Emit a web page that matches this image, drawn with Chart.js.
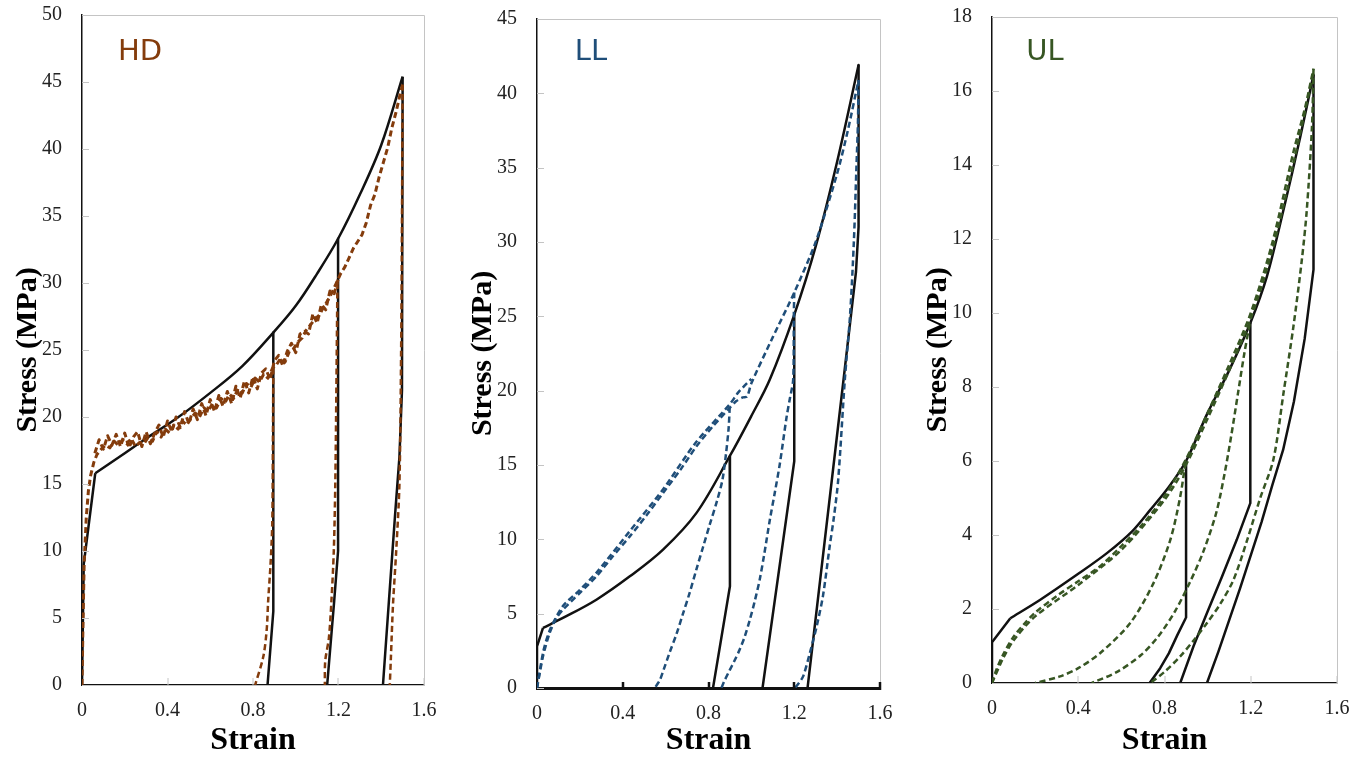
<!DOCTYPE html>
<html>
<head>
<meta charset="utf-8">
<script src="https://cdn.jsdelivr.net/npm/chart.js@4.4.1/dist/chart.umd.min.js"></script>
<style>
body{margin:0;background:#fff;}
.panel{position:absolute;top:0;height:760px;}
</style>
</head>
<body>
<div class="panel" style="left:0;width:455px"><canvas id="hd" width="455" height="760"></canvas></div>
<div class="panel" style="left:455px;width:455px"><canvas id="ll" width="455" height="760"></canvas></div>
<div class="panel" style="left:910px;width:457px"><canvas id="ul" width="457" height="760"></canvas></div>
<script>
// strain / stress pairs
var xTicks=[0,0.4,0.8,1.2,1.6];

// HD panel
var hdModelKnee=[[0,0],[0.008,9],[0.062,15.8]];
var hdModelLoad=[[0.062,15.8],[0.2,17.3],[0.3,18.4],[0.443,19.9],[0.6,21.8],[0.75,23.8],[0.895,26.3],[1.0,28.3],[1.1,30.7],[1.198,33.3],[1.3,36.6],[1.4,40.3],[1.5,45.4]];
var hdModelUnload1=[[0.895,26.3],[0.895,5.5],[0.868,0]];
var hdModelUnload2=[[1.198,33.3],[1.198,10.0],[1.18,6.3],[1.147,0]];
var hdModelUnload3=[[1.5,45.4],[1.497,22],[1.485,17],[1.466,13],[1.436,6.3],[1.408,0]];
var hdExpLoad=[[0,0],[0.004,4],[0.01,9],[0.02,12.5],[0.03,14.5],[0.04,15.6],[0.055,16.6],[0.07,17.2],[0.09,17.6],[0.11,17.9],[0.13,17.7],[0.15,18.2],[0.17,17.9],[0.19,18.3],[0.21,18.0],[0.23,18.4],[0.25,17.8],[0.27,18.1],[0.29,18.0],[0.31,18.5],[0.33,18.2],[0.35,18.9],[0.37,18.5],[0.39,19.1],[0.41,18.8],[0.43,19.4],[0.45,19.1],[0.47,19.7],[0.49,19.4],[0.51,19.9],[0.53,20.3],[0.55,20.0],[0.57,20.7],[0.59,20.4],[0.61,21.0],[0.63,20.7],[0.65,21.4],[0.67,21.1],[0.69,21.7],[0.71,21.4],[0.73,22.1],[0.75,21.8],[0.77,22.5],[0.79,22.2],[0.81,22.9],[0.83,22.6],[0.85,23.2],[0.87,22.9],[0.89,23.6],[0.91,23.9],[0.93,24.4],[0.95,24.1],[0.97,24.9],[0.99,25.1],[1.01,25.6],[1.03,25.9],[1.05,26.5],[1.07,26.9],[1.09,27.3],[1.11,27.6],[1.13,28.2],[1.15,28.7],[1.17,29.3],[1.19,30.0],[1.21,30.7],[1.23,31.2],[1.25,31.9],[1.27,32.6],[1.29,33.1],[1.31,33.6],[1.33,34.5],[1.35,35.8],[1.37,36.6],[1.39,37.9],[1.41,39.0],[1.43,40.1],[1.45,41.6],[1.47,42.8],[1.49,44.2],[1.5,44.8]];
var hdExpReload=[[0.06,17.3],[0.08,18.3],[0.1,17.6],[0.12,18.6],[0.14,17.9],[0.16,18.7],[0.18,17.8],[0.2,18.8],[0.22,17.7],[0.24,18.5],[0.26,18.9],[0.28,17.8],[0.3,18.9],[0.32,18.0],[0.34,18.8],[0.36,19.4],[0.38,18.5],[0.4,19.7],[0.42,18.9],[0.44,20.0],[0.46,19.2],[0.48,20.4],[0.5,19.5],[0.52,20.6],[0.54,19.8],[0.56,21.0],[0.58,20.1],[0.6,21.3],[0.62,20.4],[0.64,21.6],[0.66,20.8],[0.68,21.9],[0.7,21.0],[0.72,22.3],[0.74,21.4],[0.76,22.7],[0.78,21.8],[0.8,23.0],[0.82,22.1],[0.84,23.3],[0.86,23.6],[0.88,22.8],[0.9,24.2],[0.92,24.6],[0.94,23.8],[0.96,24.9],[0.98,25.5],[1.0,24.8],[1.02,26.2],[1.04,26.4],[1.06,26.2],[1.08,27.7],[1.1,27.0],[1.12,28.4],[1.14,28.0],[1.16,29.4],[1.18,29.2],[1.2,30.4]];
var hdExpUnload1=[[0.895,23.6],[0.893,18],[0.89,12],[0.882,9],[0.871,6.3],[0.864,4.1],[0.848,2.1],[0.81,0]];
var hdExpUnload2=[[1.195,30.0],[1.19,22],[1.185,15],[1.178,10],[1.167,6.3],[1.155,3.5],[1.138,1.8],[1.136,0]];
var hdExpUnload3=[[1.5,44.8],[1.497,35],[1.493,25],[1.485,15],[1.47,10],[1.455,6],[1.445,2],[1.44,0]];

// LL panel
var llModelKnee=[[0,0],[0,2.8],[0.028,4.04]];
var llModelLoad=[[0.028,4.04],[0.121,4.71],[0.277,5.94],[0.433,7.51],[0.588,9.31],[0.744,11.78],[0.899,15.59],[1.0,18.3],[1.086,20.75],[1.2,25.1],[1.3,29.7],[1.4,35.4],[1.5,41.9]];
var llModelUnload1=[[0.899,15.59],[0.9,6.84],[0.821,0]];
var llModelUnload2=[[1.2,25.1],[1.2,15.25],[1.052,0]];
var llModelUnload3=[[1.5,41.9],[1.5,31],[1.488,28],[1.43,20.75],[1.262,0]];
var llExpLoad=[[0,0],[0.028,2.13],[0.059,3.7],[0.09,4.7],[0.121,5.27],[0.199,6.39],[0.277,7.51],[0.35,8.8],[0.433,10.2],[0.51,11.6],[0.588,13.12],[0.67,14.7],[0.744,16.26],[0.82,17.6],[0.899,18.84],[0.93,19.3],[0.96,19.55],[0.98,19.6],[1.0,20.5],[1.1,23.6],[1.2,26.6],[1.3,30.0],[1.4,34.6],[1.45,37.5],[1.5,40.9]];
var llExpReload=[[0,0],[0.03,2.5],[0.06,3.9],[0.12,5.5],[0.2,6.6],[0.28,7.8],[0.43,10.5],[0.59,13.4],[0.74,16.5],[0.9,19.1],[0.94,19.9],[1.0,20.8]];
var llExpUnload1=[[0.899,18.9],[0.894,17.5],[0.882,15.8],[0.865,14.0],[0.84,12.6],[0.806,11.0],[0.775,9.5],[0.744,8.0],[0.712,6.4],[0.681,5.0],[0.65,3.6],[0.619,2.4],[0.59,1.2],[0.572,0.5],[0.549,0]];
var llExpUnload2=[[1.2,26.6],[1.198,25.0],[1.195,20.75],[1.18,19.5],[1.164,18.2],[1.133,15.1],[1.11,13.2],[1.086,11.3],[1.06,9.0],[1.039,7.3],[1.015,5.8],[0.993,4.6],[0.97,3.5],[0.946,2.6],[0.92,1.8],[0.899,1.2],[0.875,0.5],[0.86,0]];
var llExpUnload3=[[1.5,40.9],[1.497,38],[1.49,35],[1.478,30],[1.46,25],[1.436,20.75],[1.405,14.0],[1.385,11.5],[1.365,9.5],[1.334,6.2],[1.304,4.1],[1.29,3.3],[1.273,2.36],[1.242,0.8],[1.22,0.3],[1.203,0]];

// UL panel
var ulModelKnee=[[0,0],[0,1.1],[0.085,1.75]];
var ulModelLoad=[[0.085,1.75],[0.224,2.25],[0.4,2.95],[0.533,3.51],[0.65,4.1],[0.734,4.68],[0.82,5.3],[0.9,6.0],[1.0,7.3],[1.1,8.45],[1.198,9.73],[1.275,10.99],[1.352,12.79],[1.43,14.77],[1.491,16.44]];
var ulModelUnload1=[[0.9,6.0],[0.9,1.77],[0.86,1.3],[0.82,0.8],[0.78,0.4],[0.731,0]];
var ulModelUnload2=[[1.198,9.73],[1.198,4.86],[1.135,3.87],[1.065,2.85],[0.997,1.89],[0.935,1.0],[0.873,0]];
var ulModelUnload3=[[1.491,16.44],[1.491,11.17],[1.45,9.3],[1.4,7.6],[1.35,6.3],[1.3,5.35],[1.25,4.35],[1.2,3.45],[1.15,2.55],[1.1,1.7],[1.05,0.85],[0.997,0]];
var ulExpLoad=[[0,0],[0.02,0.35],[0.05,0.75],[0.1,1.25],[0.15,1.6],[0.2,1.9],[0.3,2.35],[0.4,2.75],[0.5,3.15],[0.6,3.7],[0.7,4.3],[0.8,5.05],[0.9,6.05],[1.0,7.3],[1.1,8.6],[1.2,10.0],[1.3,11.9],[1.4,14.4],[1.45,15.5],[1.491,16.6]];
var ulExpReload=[[0,0],[0.05,0.65],[0.1,1.15],[0.2,1.8],[0.4,2.65],[0.6,3.6],[0.8,4.95],[0.9,5.9],[1.0,7.15],[1.1,8.45],[1.2,9.85],[1.3,11.7],[1.4,14.1],[1.491,16.5]];
var ulExpUnload1=[[0.897,5.95],[0.873,5.04],[0.827,3.87],[0.749,2.7],[0.641,1.62],[0.502,0.81],[0.4,0.4],[0.316,0.18],[0.2,0]];
var ulExpUnload2=[[1.195,9.7],[1.17,8.9],[1.14,7.8],[1.11,6.7],[1.08,5.7],[1.04,4.6],[0.98,3.55],[0.92,2.75],[0.85,1.95],[0.77,1.25],[0.69,0.75],[0.58,0.3],[0.463,0]];
var ulExpUnload3=[[1.491,16.6],[1.484,15.04],[1.46,12.79],[1.437,11.44],[1.398,9.64],[1.352,7.84],[1.305,6.04],[1.244,5.0],[1.18,3.8],[1.12,2.79],[1.06,2.15],[0.997,1.62],[0.935,1.15],[0.873,0.72],[0.8,0.3],[0.734,0]];

var SERIF='"Liberation Serif","Times New Roman",serif';

function toXY(pts){
    return pts.map(function(p){ return {x:p[0],y:p[1]}; });
}
function solid(pts,t){
    return {data:toXY(pts),borderColor:'#111',borderWidth:2.5,showLine:true,pointRadius:0,fill:false,tension:t||0};
}
function dashed(pts,col,t,w){
    return {data:toXY(pts),borderColor:col,borderWidth:w||2.5,borderDash:[6,3.5],showLine:true,pointRadius:0,fill:false,tension:t||0};
}

// light frame, inward tick marks, panel tag
var framePlugin={
    id:'frame',
    afterDraw:function(chart,args,o){
        var ctx=chart.ctx, a=chart.chartArea, xs=chart.scales.x, ys=chart.scales.y;
        ctx.save();
        ctx.strokeStyle='#c4c4c4';
        ctx.lineWidth=1;
        ctx.beginPath();
        ctx.moveTo(a.left,a.top+0.5);
        ctx.lineTo(a.right+0.5,a.top+0.5);
        ctx.lineTo(a.right+0.5,a.bottom);
        ctx.stroke();
        ctx.beginPath();
        ys.ticks.forEach(function(t){
            var py=Math.round(ys.getPixelForValue(t.value))+0.5;
            ctx.moveTo(a.left,py);ctx.lineTo(a.left+7,py);
        });
        ctx.stroke();
        ctx.beginPath();
        if(o.heavyBase){
            ctx.strokeStyle='#111';
            ctx.lineWidth=2.5;
        }
        xs.ticks.forEach(function(t){
            if(t.value===0) return;
            var px=Math.round(xs.getPixelForValue(t.value));
            ctx.moveTo(px,a.bottom+(o.heavyBase?2:0));ctx.lineTo(px,a.bottom-(o.heavyBase?6:7));
        });
        ctx.stroke();
        ctx.fillStyle=o.color;
        ctx.font='29px "DejaVu Sans", Verdana, sans-serif';
        ctx.textAlign='center';
        ctx.textBaseline='middle';
        ctx.fillText(o.tag,a.left+o.tagDx,52);
        ctx.restore();
    }
};

function build_panel(id,tag,col,yMax,yStep,pad,bottom,heavyBase,tagDx,sets){
    var ctx=document.getElementById(id).getContext('2d');
    return new Chart(ctx,{
        type:'scatter',
        data:{datasets:sets},
        plugins:[framePlugin],
        options:{
            responsive:false,
            animation:false,
            layout:{padding:{left:0,right:pad.right,top:pad.top,bottom:0}},
            elements:{line:{borderJoinStyle:'round',borderCapStyle:'butt'}},
            plugins:{
                legend:{display:false},
                tooltip:{enabled:false},
                frame:{tag:tag,color:col,heavyBase:heavyBase,tagDx:tagDx}
            },
            scales:{
                x:{
                    type:'linear',min:0,max:1.6,
                    afterBuildTicks:function(s){ s.ticks=xTicks.map(function(v){return {value:v};}); },
                    afterFit:function(s){ s.height=760-bottom; s.paddingLeft=0; s.paddingRight=0; },
                    grid:{display:false,drawTicks:false},
                    border:{display:true,color:'#111',width:heavyBase?3:1.2},
                    ticks:{
                        font:{family:SERIF,size:20},color:'#222',padding:14,maxRotation:0,
                        callback:function(v){ return v===0?'0':v.toFixed(1); }
                    },
                    title:{display:true,text:'Strain',color:'#000',font:{family:SERIF,size:32,weight:'bold'},padding:{top:0,bottom:0}}
                },
                y:{
                    type:'linear',min:0,max:yMax,
                    afterFit:function(s){ s.width=82; s.paddingTop=0; s.paddingBottom=0; },
                    grid:{display:false,drawTicks:false},
                    border:{display:true,color:'#111',width:1.5},
                    ticks:{stepSize:yStep,font:{family:SERIF,size:20},color:'#222',padding:20},
                    title:{display:true,text:'Stress (MPa)',color:'#000',font:{family:SERIF,size:30,weight:'bold'},padding:{top:10,bottom:0}}
                }
            }
        }
    });
}

var HDC='#843C0C', LLC='#1F4E79', ULC='#375623';

build_panel('hd','HD',HDC,50,5,{right:31,top:15},685,false,58,[
    dashed(hdExpLoad,HDC,0,3),dashed(hdExpReload,HDC,0,3),dashed(hdExpUnload1,HDC,0.3),dashed(hdExpUnload2,HDC,0.3),dashed(hdExpUnload3,HDC,0.3),
    solid(hdModelKnee),solid(hdModelLoad,0.35),solid(hdModelUnload1),solid(hdModelUnload2),solid(hdModelUnload3)
]);
build_panel('ll','LL',LLC,45,5,{right:30,top:19},688,true,54,[
    dashed(llExpLoad,LLC,0.25),dashed(llExpReload,LLC,0.25),dashed(llExpUnload1,LLC,0.3),dashed(llExpUnload2,LLC,0.3),dashed(llExpUnload3,LLC,0.3),
    solid(llModelKnee),solid(llModelLoad,0.35),solid(llModelUnload1),solid(llModelUnload2),solid(llModelUnload3)
]);
build_panel('ul','UL',ULC,18,2,{right:30,top:17},683,false,53,[
    dashed(ulExpLoad,ULC,0.3),dashed(ulExpReload,ULC,0.3),dashed(ulExpUnload1,ULC,0.3),dashed(ulExpUnload2,ULC,0.3),dashed(ulExpUnload3,ULC,0.3),
    solid(ulModelKnee),solid(ulModelLoad,0.3),solid(ulModelUnload1),solid(ulModelUnload2),solid(ulModelUnload3)
]);
</script>
</body>
</html>
